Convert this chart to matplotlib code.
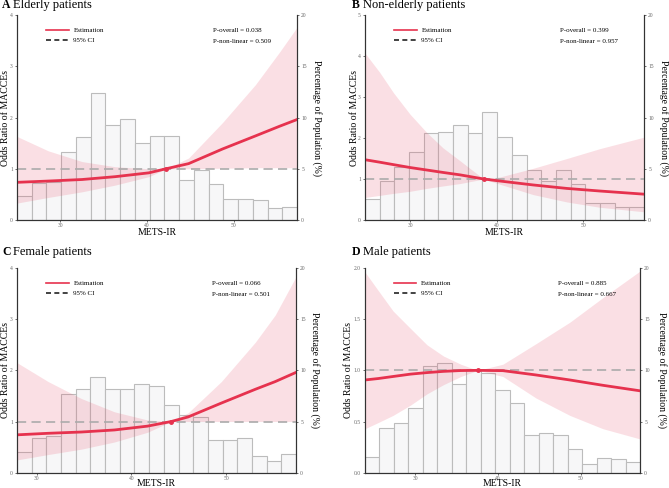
import numpy as np
import matplotlib
matplotlib.use("Agg")
import matplotlib.pyplot as plt
from matplotlib.lines import Line2D

plt.rcParams['font.family'] = ['Liberation Serif', 'DejaVu Serif']

# ---- panel A: elderly ----
a_x = [25.0, 28.6, 32.5, 36.3, 40.2, 42.2, 44.8, 48.7, 52.5, 55.3, 57.3]
a_or = [0.735, 0.76, 0.79, 0.845, 0.92, 1.0, 1.10, 1.385, 1.64, 1.83, 1.96]
a_lo = [0.33, 0.44, 0.55, 0.68, 0.845, 1.0, 1.0, 1.01, 1.02, 1.02, 1.02]
a_hi = [1.63, 1.35, 1.14, 1.04, 1.0, 1.0, 1.21, 1.90, 2.64, 3.28, 3.76]
a_pct = [2.31, 3.61, 3.7, 6.63, 8.1, 12.36, 9.24, 9.85, 7.54, 8.16, 8.16,
         3.87, 4.85, 3.48, 2.05, 2.05, 1.92, 1.14, 1.30]
a_range = (25.0, 57.3)
a_ref = 42.2

# ---- panel B: non-elderly ----
b_x = [24.8, 26.5, 28.1, 30.0, 31.9, 33.8, 35.8, 38.5, 40.4, 44.2, 48.1, 51.9, 57.0]
b_or = [1.47, 1.41, 1.35, 1.28, 1.22, 1.16, 1.10, 1.0, 0.95, 0.855, 0.77, 0.707, 0.63]
b_lo = [0.55, 0.6, 0.65, 0.70, 0.77, 0.83, 0.89, 1.0, 0.87, 0.62, 0.44, 0.31, 0.2]
b_hi = [4.07, 3.6, 3.1, 2.58, 2.14, 1.76, 1.44, 1.0, 1.05, 1.26, 1.50, 1.74, 2.02]
b_pct = [2.05, 3.8, 5.2, 6.6, 8.52, 8.63, 9.3, 8.52, 10.55, 8.05, 6.3,
         4.88, 3.8, 4.88, 3.5, 1.63, 1.63, 1.22, 1.22]
b_range = (24.8, 57.0)
b_ref = 38.5

# ---- panel C: female ----
c_x = [27.9, 31.2, 34.7, 38.2, 41.7, 44.2, 46.0, 49.5, 53.1, 55.2, 57.4]
c_or = [0.74, 0.77, 0.795, 0.835, 0.91, 1.0, 1.09, 1.36, 1.63, 1.78, 1.96]
c_lo = [0.25, 0.355, 0.46, 0.6, 0.79, 1.0, 1.0, 1.0, 1.0, 1.0, 1.0]
c_hi = [2.15, 1.78, 1.45, 1.19, 1.03, 1.0, 1.17, 1.78, 2.55, 3.08, 3.83]
c_pct = [2.03, 3.39, 3.6, 7.73, 8.19, 9.31, 8.15, 8.15, 8.63, 8.43, 6.58,
         5.67, 5.47, 3.16, 3.16, 3.4, 1.6, 1.11, 1.8]
c_range = (27.9, 57.4)
c_ref = 44.2

# ---- panel D: male ----
d_x = [23.9, 25.5, 27.3, 29.4, 31.4, 33.4, 35.5, 37.55, 40.6, 44.6, 48.7, 52.7, 57.2]
d_or = [0.906, 0.92, 0.94, 0.963, 0.978, 0.99, 0.998, 1.0, 0.997, 0.955, 0.906, 0.854, 0.80]
d_lo = [0.43, 0.49, 0.56, 0.66, 0.77, 0.86, 0.94, 1.0, 0.94, 0.73, 0.56, 0.43, 0.33]
d_hi = [1.96, 1.78, 1.58, 1.41, 1.25, 1.14, 1.06, 1.0, 1.06, 1.26, 1.47, 1.71, 1.97]
d_pct = [1.5, 4.36, 4.85, 6.29, 10.47, 10.68, 8.63, 10.0, 9.72, 8.05, 6.82,
         3.73, 3.83, 3.73, 2.34, 0.88, 1.4, 1.29, 1.01]
d_range = (23.9, 57.2)
d_ref = 37.55

letters = ['A', 'B', 'C', 'D']
titles = ['Elderly patients', 'Non-elderly patients', 'Female patients', 'Male patients']
p_overall = ['0.038', '0.399', '0.066', '0.885']
p_nonlin = ['0.509', '0.957', '0.501', '0.667']
or_ticks = [[0, 1, 2, 3, 4], [0, 1, 2, 3, 4, 5], [0, 1, 2, 3, 4], [0, 0.5, 1.0, 1.5, 2.0]]
pct_ticks = [0, 5, 10, 15, 20]
x_ticks = [30, 40, 50]

RED = '#e6324e'
PINK = '#e8506a'


def draw_panel(fig, rect, x, orr, lo, hi, pct, xr, ref, idx, ylab_x, rlab_x, xlab_y):
    ax = fig.add_axes(rect)
    ax2 = ax.twinx()
    ax.set_zorder(ax2.get_zorder() + 1)
    ax.patch.set_visible(False)

    # histogram (right axis)
    edges = np.linspace(xr[0], xr[1], len(pct) + 1)
    ax2.bar(edges[:-1], pct, width=np.diff(edges), align='edge',
            color='#f7f7f8', edgecolor='#bcbcbc', linewidth=0.8)
    ax2.set_ylim(0, 20)
    ax2.set_yticks(pct_ticks)

    # spline estimate
    ax.fill_between(x, lo, hi, color=PINK, alpha=0.18, linewidth=0)
    ax.axhline(1, color='#ababab', lw=1.2, dashes=(5.5, 3.2))
    ax.plot(x, orr, color=RED, lw=2)
    ax.plot([ref], [1], 'o', color=RED, ms=2.5)

    ticks = or_ticks[idx]
    ax.set_ylim(ticks[0], ticks[-1])
    ax.set_yticks(ticks)
    if idx == 3:
        ax.set_yticklabels(['%.1f' % t for t in ticks])
    ax.set_xlim(*xr)
    ax2.set_xlim(*xr)
    ax.set_xticks(x_ticks)

    for a in (ax, ax2):
        a.spines['top'].set_visible(False)
        for s in a.spines.values():
            s.set_color('#333333')
            s.set_linewidth(0.8)
        a.tick_params(labelsize=4, labelcolor='#666666', length=1.5, width=0.6,
                      color='#555555', pad=1.5)
    ax.tick_params(axis='x', pad=0.8)

    ax.set_xlabel('METS-IR', fontsize=7)
    ax.xaxis.set_label_coords(0.5, xlab_y)
    ax.set_ylabel('Odds Ratio of MACCEs', fontsize=7)
    ax.yaxis.set_label_coords(ylab_x, 0.5)
    ax2.set_ylabel('Percentage of Population (%)', fontsize=7, rotation=270, va='center')
    ax2.yaxis.set_label_coords(rlab_x, 0.5)

    handles = [Line2D([], [], color=RED, lw=1.2),
               Line2D([], [], color='#222222', lw=1.2, dashes=(3, 2))]
    ax.legend(handles, ['Estimation', '95% CI'], loc='upper left',
              bbox_to_anchor=(0.105, 0.94), frameon=False, fontsize=5,
              handlelength=3.2, handletextpad=0.7, labelspacing=0.6,
              borderpad=0, borderaxespad=0)
    ax.text(0.70, 0.925, 'P-overall = ' + p_overall[idx], transform=ax.transAxes,
            fontsize=5, va='center')
    ax.text(0.70, 0.87, 'P-non-linear = ' + p_nonlin[idx], transform=ax.transAxes,
            fontsize=5, va='center')
    return ax


W, H = 669, 488
fig = plt.figure(figsize=(W / 100, H / 100), dpi=100)


def rect(l, r, t, b):
    return [l / W, 1 - b / H, (r - l) / W, (b - t) / H]


draw_panel(fig, rect(17, 297, 15, 220), a_x, a_or, a_lo, a_hi, a_pct, a_range, a_ref,
           0, -0.025, 1.071, -0.04)
draw_panel(fig, rect(365, 644, 15, 220), b_x, b_or, b_lo, b_hi, b_pct, b_range, b_ref,
           1, -0.02, 1.072, -0.04)
draw_panel(fig, rect(17, 296, 268, 472.7), c_x, c_or, c_lo, c_hi, c_pct, c_range, c_ref,
           2, -0.024, 1.068, -0.029)
draw_panel(fig, rect(365, 640, 268, 472.7), d_x, d_or, d_lo, d_hi, d_pct, d_range, d_ref,
           3, -0.042, 1.08, -0.029)

# panel tags and titles
tag_pos = [(2, 8), (352, 8), (2, 255), (352, 255)]
for i, (px, py) in enumerate(tag_pos):
    fig.text(px / W, 1 - py / H, letters[i], fontsize=8.5, weight='bold', va='baseline')
    fig.text((px + 11) / W, 1 - py / H, titles[i], fontsize=9, va='baseline')

fig.savefig('out.png', dpi=100)
